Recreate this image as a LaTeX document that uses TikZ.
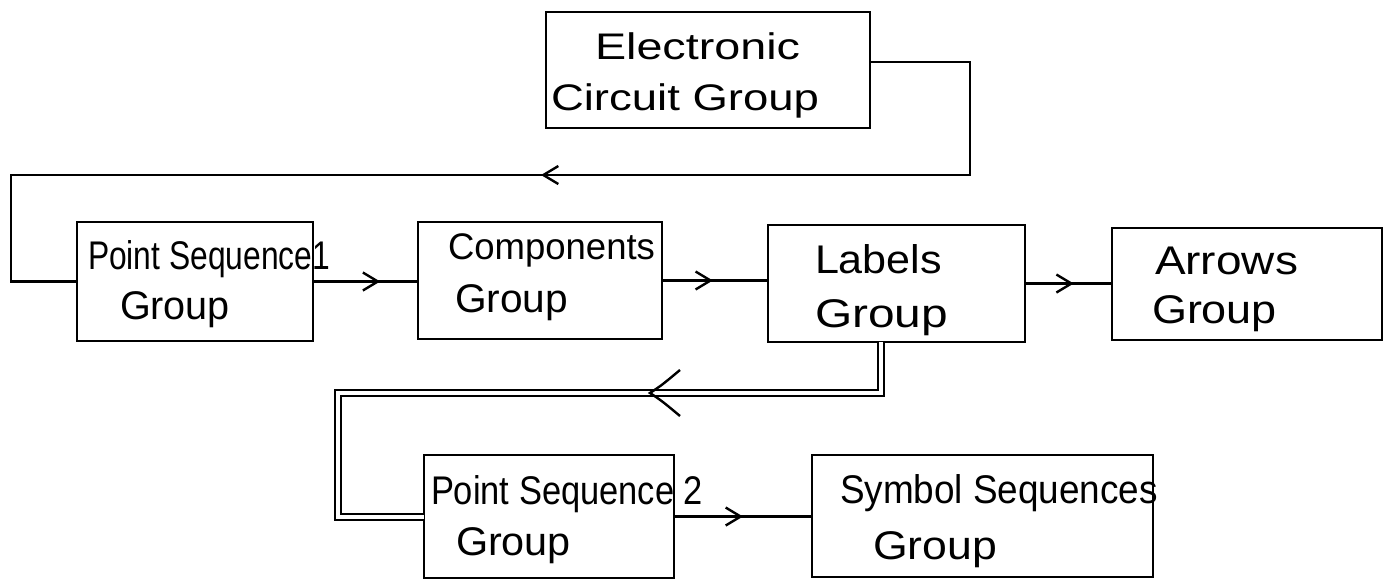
\documentclass[tikz,border=0pt]{standalone}
\usepackage{fontspec}
\setmainfont{Liberation Sans}
\usetikzlibrary{arrows.meta,decorations.markings}
\newcommand{\fw}[2]{\resizebox{#1pt}{\height}{#2}}
\begin{document}
\begin{tikzpicture}[x=1pt,y=-1pt,
  box/.style={draw, line width=2.8pt, inner sep=0pt, outer sep=0pt},
  txt/.style={anchor=base west, inner sep=0pt, outer sep=0pt, font=\fontsize{40}{44}\selectfont},
  stxt/.style={txt, font=\fontsize{37}{40}\selectfont},
  conn/.style={line width=2.2pt},
  dbl/.style={double, line width=2pt, double distance=4pt},
  midarrow/.style={postaction={decorate}, decoration={markings, mark=at position #1 with {\arrow{Straight Barb[length=15pt,width=18pt,line width=2.4pt]}}}}
]
\useasboundingbox (0,0) rectangle (1391,582);
\fill[white] (0,0) rectangle (1391,582);

% boxes
\node[box, minimum width=324pt, minimum height=116pt] (ecg) at (708,70) {};
\node[box, minimum width=236pt, minimum height=119pt] (ps1) at (195,281.5) {};
\node[box, minimum width=244pt, minimum height=117pt] (comp) at (540,280.5) {};
\node[box, minimum width=257pt, minimum height=117pt] (lab) at (896.5,283.5) {};
\node[box, minimum width=270pt, minimum height=112pt] (arr) at (1247,284) {};
\node[box, minimum width=250pt, minimum height=123pt] (ps2) at (549,516.5) {};
\node[box, minimum width=341pt, minimum height=122pt] (ss) at (982.5,516) {};

% texts
\node[stxt] (t1) at (595,59) {\fw{205}{Electronic}};
\node[stxt] (t2) at (551,110) {\fw{268}{Circuit Group}};
\node[txt] (t3) at (88,269) {\fw{242}{Point Sequence1}};
\node[txt] (t4) at (120,319) {\fw{110}{Group}};
\node[stxt] (t5) at (448,259) {\fw{207}{Components}};
\node[txt] (t6) at (455,312) {\fw{113}{Group}};
\node[txt] (t7) at (815,273) {\fw{127}{Labels}};
\node[txt] (t8) at (815,327) {\fw{133}{Group}};
\node[txt] (t9) at (1155,274) {\fw{143}{Arrows}};
\node[txt] (t10) at (1152,323) {\fw{125}{Group}};
\node[txt] (t11) at (431,504) {\fw{272}{Point Sequence 2}};
\node[txt] (t12) at (456,555) {\fw{115}{Group}};
\node[txt] (t13) at (840,503) {\fw{318}{Symbol Sequences}};
\node[txt] (t14) at (873,559) {\fw{124}{Group}};

% feedback loop from Electronic Circuit Group to Point Sequence 1
\coordinate (a1) at (970,175);
\coordinate (a2) at (11,175);
\draw[conn, midarrow=642pt] ([yshift=8pt]ecg.east) -| (a1) -- (a2) |- (ps1.west);

% main chain
\draw[conn, midarrow=0.64] (ps1.east) -- (comp.west |- ps1.east);
\draw[conn, midarrow=0.48] (comp.east) -- (lab.west |- comp.east);
\draw[conn, midarrow=0.56] (lab.east) -- (arr.west |- lab.east);
\draw[conn, midarrow=0.5] (ps2.east) -- (ss.west |- ps2.east);

% double connector from Labels to Point Sequence 2
\coordinate (l1) at ([xshift=-15.5pt]lab.south);
\coordinate (c2) at (338,393);
\draw[dbl] (l1) |- (c2) |- (ps2.west);
\path[postaction={decorate}, decoration={markings, mark=at position 282pt with {\draw[line width=2.4pt] (-30pt,23pt) .. controls (-12pt,8pt) .. (0pt,0pt) .. controls (-12pt,-8pt) .. (-30pt,-23pt);}}] (l1) |- (c2) |- (ps2.west);
\end{tikzpicture}
\end{document}
